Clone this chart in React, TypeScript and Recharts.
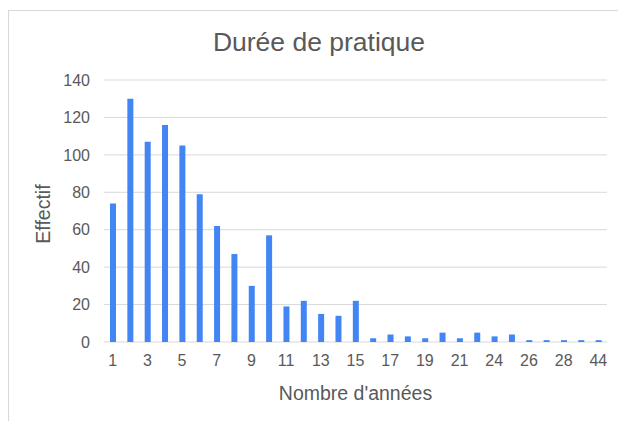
import { BarChart, Bar, CartesianGrid, XAxis, YAxis, Label } from 'recharts';

// years of practice (category labels) and count per category
const years = [
    '1', '2', '3', '4', '5', '6', '7', '8', '9', '10',
    '11', '12', '13', '14', '15', '16', '17', '18', '19', '20',
    '21', '22', '24', '25', '26', '27', '28', '30', '44',
];
const counts = [
    74, 130, 107, 116, 105, 79, 62, 47, 30, 57,
    19, 22, 15, 14, 22, 2, 4, 3, 2, 5,
    2, 5, 3, 4, 1, 1, 1, 1, 1,
];
const yTicks = [0, 20, 40, 60, 80, 100, 120, 140];

const data = years.map((y, i) => ({ annees: y, effectif: counts[i] }));

const textColor = '#595959';
const fontFamily = '"Liberation Sans", Arial, sans-serif';

export default function App() {
    return (
        <div style={{ position: 'absolute', top: 0, left: 0, width: 618, height: 421, overflow: 'hidden', background: '#fff', fontFamily }}>
            <div style={{ position: 'absolute', left: 8, top: 10, width: 700, height: 500, borderTop: '1px solid #d9d9d9', borderLeft: '1px solid #d9d9d9' }} />
            <div style={{ position: 'absolute', top: 29, left: 0, width: 638, textAlign: 'center', fontSize: 26.5, lineHeight: '26px', color: textColor }}>
                Durée de pratique
            </div>
            <div style={{ position: 'absolute', top: 0, left: 0 }}>
                <BarChart width={618} height={421} data={data} margin={{ top: 80, right: 11, left: 0, bottom: 0 }} barCategoryGap={0}>
                    <CartesianGrid vertical={false} stroke="#d9d9d9" />
                    <XAxis
                        dataKey="annees"
                        interval={1}
                        axisLine={false}
                        tickLine={false}
                        tickMargin={7}
                        height={79}
                        tick={{ fill: textColor, fontSize: 16, fontFamily }}
                    >
                        <Label value="Nombre d'années" position="insideBottom" offset={21} fill={textColor} fontSize={19.5} fontFamily={fontFamily} />
                    </XAxis>
                    <YAxis
                        domain={[0, 140]}
                        ticks={yTicks}
                        axisLine={false}
                        tickLine={false}
                        tickMargin={8}
                        width={104}
                        tick={{ fill: textColor, fontSize: 16, fontFamily }}
                    >
                        <Label value="Effectif" angle={-90} position="center" dx={-9} dy={3} fill={textColor} fontSize={19.5} fontFamily={fontFamily} />
                    </YAxis>
                    <Bar dataKey="effectif" fill="#4285F4" barSize={6} isAnimationActive={false} />
                </BarChart>
            </div>
        </div>
    );
}
